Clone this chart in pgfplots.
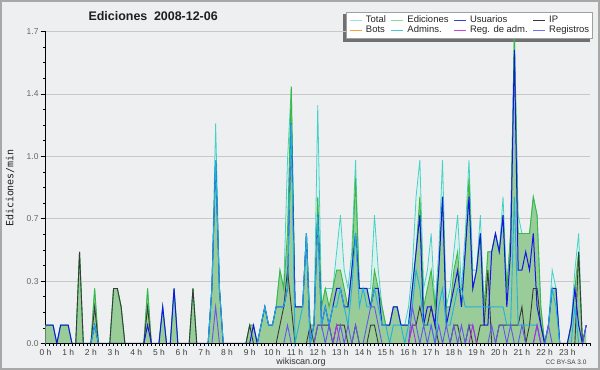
\documentclass[border=0pt]{standalone}
\usepackage{fontspec}
\setmainfont{Liberation Sans}
\newfontfamily\monofont{DejaVu Sans Mono}
\usepackage{pgfplots}
\pgfplotsset{compat=1.18}
\usepackage{pgfplotstable}

\definecolor{bgcol}{HTML}{EEEFF0}
\definecolor{bordercol}{HTML}{A8A8A8}
\definecolor{gridcol}{HTML}{C8C8C8}
\definecolor{totline}{HTML}{44D2C6}
\definecolor{totfill}{HTML}{DCF1EE}
\definecolor{edfill}{HTML}{99CC99}
\definecolor{edline}{HTML}{3CB83C}
\definecolor{ucol}{HTML}{1515E6}
\definecolor{acol}{HTML}{1EB2E0}
\definecolor{ipcol}{HTML}{3A3A3A}
\definecolor{rcol}{HTML}{6655EE}
\definecolor{racol}{HTML}{B22EE0}
\definecolor{lgTot}{HTML}{9FE3DA}
\definecolor{lgEd}{HTML}{8FD88F}
\definecolor{lgU}{HTML}{3A3AD8}
\definecolor{lgIP}{HTML}{383838}
\definecolor{lgBot}{HTML}{FFA030}
\definecolor{lgA}{HTML}{40C8E0}
\definecolor{lgRA}{HTML}{D040E0}
\definecolor{lgR}{HTML}{7070F0}
\definecolor{shadowcol}{HTML}{707070}
\definecolor{legbord}{HTML}{A0A0A0}

\pgfplotstableread{
i T E U A IP R RA
0 0.1 0.1 0.1 0 0 0 0
1 0.1 0.1 0.1 0 0 0 0
2 0.1 0.1 0.1 0 0 0 0
3 0 0 0 0 0 0 0
4 0.1 0.1 0.1 0 0 0 0
5 0.1 0.1 0.1 0 0 0 0
6 0.1 0.1 0.1 0 0 0 0
7 0 0 0 0 0 0 0
8 0 0 0 0 0 0 0
9 0.5 0.5 0 0 0.5 0 0
10 0 0 0 0 0 0 0
11 0 0 0 0 0 0 0
12 0 0 0 0 0 0 0
13 0.3 0.3 0.1 0.1 0.2 0 0
14 0 0 0 0 0 0 0
15 0 0 0 0 0 0 0
16 0 0 0 0 0 0 0
17 0 0 0 0 0 0 0
18 0.3 0.3 0 0 0.3 0 0
19 0.3 0.3 0 0 0.3 0 0
20 0.2 0.2 0 0 0.2 0 0
21 0 0 0 0 0 0 0
22 0 0 0 0 0 0 0
23 0 0 0 0 0 0 0
24 0 0 0 0 0 0 0
25 0 0 0 0 0 0 0
26 0 0 0 0 0 0 0
27 0.3 0.3 0.1 0 0.2 0 0
28 0 0 0 0 0 0 0
29 0 0 0 0 0 0 0
30 0 0 0 0 0 0 0
31 0.2 0.2 0.2 0 0 0 0
32 0 0 0 0 0 0 0
33 0 0 0 0 0 0 0
34 0.3 0.3 0.3 0 0 0 0
35 0 0 0 0 0 0 0
36 0 0 0 0 0 0 0
37 0 0 0 0 0 0 0
38 0 0 0 0 0 0 0
39 0.3 0.3 0 0 0.3 0 0
40 0 0 0 0 0 0 0
41 0 0 0 0 0 0 0
42 0 0 0 0 0 0 0
43 0 0 0 0 0 0 0
44 0.3 0.3 0.3 0.3 0 0 0
45 1.2 1.0 1.0 1.0 0 0.2 0
46 0.3 0.3 0.3 0.3 0 0 0
47 0 0 0 0 0 0 0
48 0 0 0 0 0 0 0
49 0 0 0 0 0 0 0
50 0 0 0 0 0 0 0
51 0 0 0 0 0 0 0
52 0 0 0 0 0 0 0
53 0 0 0 0 0 0 0
54 0.1 0.1 0 0 0.1 0 0
55 0.1 0.1 0.1 0 0 0 0
56 0 0 0 0 0 0 0
57 0.1 0.1 0.1 0.1 0 0 0
58 0.2 0.2 0.2 0.2 0 0 0
59 0.1 0.1 0.1 0.1 0 0 0
60 0.1 0.1 0.1 0.1 0 0 0
61 0.2 0.2 0.2 0.2 0 0 0
62 0.4 0.4 0.2 0.2 0.1 0 0
63 0.3 0.3 0.2 0.2 0.2 0 0
64 1.0 0.6 0.3 0.3 0.4 0.1 0
65 1.4 1.4 1.2 1.2 0.2 0 0
66 0.2 0.2 0.2 0 0 0 0
67 0.2 0.2 0.2 0.1 0 0 0
68 0.2 0.2 0.2 0.2 0 0 0
69 0.6 0.6 0.6 0.6 0 0 0
70 0.1 0.1 0 0 0.1 0 0
71 0.1 0.1 0.1 0.1 0 0 0
72 1.3 0.8 0.7 0.7 0.1 0.1 0
73 0.2 0.2 0.1 0.1 0.1 0.1 0
74 0.3 0.3 0.2 0.2 0.1 0 0
75 0.3 0.2 0.1 0.1 0.1 0.1 0
76 0.3 0.3 0.2 0.2 0 0 0
77 0.5 0.4 0.3 0.2 0.1 0 0.1
78 0.7 0.4 0.3 0.3 0.1 0.1 0
79 0.4 0.3 0.2 0.2 0.1 0 0
80 0.3 0.2 0.2 0.1 0 0.1 0
81 0.5 0.4 0.4 0.3 0 0 0
82 1.0 0.9 0.6 0.6 0.1 0.1 0
83 0.3 0.3 0.3 0.2 0 0 0
84 0.3 0.3 0.3 0.3 0 0 0
85 0.3 0.3 0.3 0.2 0 0.1 0
86 0.3 0.2 0.2 0.2 0.1 0.2 0
87 0.7 0.4 0.3 0.3 0.1 0.2 0
88 0.4 0.3 0.3 0.2 0 0.1 0
89 0.2 0.2 0.1 0.1 0 0 0
90 0.1 0.1 0.1 0.1 0 0 0
91 0.1 0.1 0.1 0 0 0 0
92 0.2 0.2 0.2 0.1 0 0 0
93 0.2 0.2 0.2 0.1 0 0 0
94 0.1 0.1 0.1 0.1 0 0 0
95 0.1 0.1 0.1 0 0 0 0
96 0.2 0.1 0.1 0.1 0 0 0
97 0.4 0.3 0.3 0.2 0.1 0.2 0.1
98 0.8 0.5 0.5 0.4 0.1 0.1 0
99 1.0 0.8 0.7 0.3 0.2 0 0
100 0.3 0.2 0.1 0.1 0.1 0.1 0
101 0.4 0.3 0.2 0.1 0.1 0 0
102 0.6 0.4 0.2 0.1 0.2 0.1 0
103 0.2 0.2 0.1 0 0.1 0 0
104 0.5 0.4 0.4 0.2 0 0.1 0
105 1.0 0.8 0.8 0.3 0 0 0
106 0.2 0.2 0.1 0.1 0 0.1 0
107 0.3 0.2 0.2 0.1 0 0 0
108 0.5 0.4 0.3 0.2 0.1 0.1 0
109 0.7 0.5 0.4 0.3 0.1 0 0
110 0.3 0.2 0.2 0.3 0 0.1 0
111 0.6 0.5 0.5 0.2 0 0 0
112 1.0 0.9 0.8 0.2 0.1 0.1 0
113 0.4 0.3 0.3 0.2 0 0.1 0.1
114 0.4 0.4 0.4 0.2 0 0 0
115 0.7 0.6 0.6 0.2 0.1 0 0
116 0.2 0.2 0.1 0.2 0.1 0 0
117 0.5 0.5 0.1 0.2 0.4 0 0
118 0.5 0.5 0.5 0.2 0 0.1 0
119 0.6 0.6 0.6 0.2 0 0 0
120 0.5 0.5 0.5 0.2 0.1 0.1 0
121 0.8 0.7 0.7 0.2 0.1 0.1 0
122 0.3 0.3 0.2 0.1 0.1 0 0
123 0.6 0.6 0.5 0.1 0.1 0.1 0
124 1.7 1.7 1.6 0.8 0.1 0 0
125 0.7 0.6 0.4 0.1 0.1 0 0
126 0.6 0.6 0.4 0.1 0.2 0.1 0
127 0.6 0.6 0.5 0.1 0 0 0
128 0.6 0.6 0.4 0.1 0.1 0 0
129 0.8 0.8 0.6 0.1 0.3 0 0
130 0.7 0.7 0.2 0.1 0.3 0.1 0.1
131 0.2 0.2 0.1 0 0.1 0 0
132 0 0 0 0 0 0 0
133 0.1 0.1 0.1 0.1 0 0.1 0
134 0.4 0.3 0.3 0.3 0 0 0
135 0.3 0.3 0.3 0.2 0 0 0
136 0 0 0 0 0 0 0
137 0 0 0 0 0 0 0
138 0 0 0 0 0 0 0
139 0.1 0.1 0.1 0 0 0 0
140 0.4 0.3 0.3 0.2 0 0 0
141 0.6 0.5 0.1 0 0.5 0 0
142 0 0 0 0 0 0 0
143 0.1 0.1 0.1 0 0 0.1 0
}\data

\begin{document}
\begin{tikzpicture}[x=1bp,y=1bp]
\fill[bgcol] (0bp,0bp) rectangle (600bp,370bp);
\draw[bordercol, line width=1.6bp] (0.8bp,0.8bp) rectangle (599.2bp,369.2bp);
% legend shadow
\fill[shadowcol] (343bp,328.2bp) rectangle (590bp,355.5bp);
\begin{axis}[
  at={(45.5bp,26.5bp)}, anchor=south west,
  scale only axis, width=544.5bp, height=311.8bp,
  xmin=0, xmax=144, ymin=0, ymax=1.7,
  clip=false,
  axis x line*=bottom, axis y line*=left,
  axis line style={-, black, line width=1bp},
  tick align=outside,
  major tick length=5bp, minor tick length=2.5bp,
  tick style={black, line width=0.8bp},
  xtick={0,6,...,138},
  xticklabels={0 h,1 h,2 h,3 h,4 h,5 h,6 h,7 h,8 h,9 h,10 h,11 h,12 h,13 h,14 h,15 h,16 h,17 h,18 h,19 h,20 h,21 h,22 h,23 h},
  major x tick style={draw=none},
  minor xtick={0,1,...,144},
  ytick={0,0.34,0.68,1.02,1.36,1.7},
  yticklabels={0.0,0.3,0.7,1.0,1.4,1.7},
  minor y tick num=3,
  ymajorgrids,
  major grid style={gridcol, line width=0.8bp},
  xticklabel style={font=\fontsize{8.5}{9}\selectfont, text=black!75, yshift=3bp},
  yticklabel style={font=\fontsize{8.5}{9}\selectfont, text=black!60, xshift=1.5bp},
  legend columns=4,
  legend cell align=left,
  legend image code/.code={\draw[#1] (0bp,0bp) -- (12bp,0bp);},
  legend style={at={(1.0055,1.063)}, anchor=north east,
    draw=legbord, fill=white, line width=0.6bp,
    font=\fontsize{9.5}{10}\selectfont, text=black!85,
    inner sep=3bp, row sep=0bp,
    nodes={inner sep=0.5bp, text height=7bp, text depth=2bp},
    /tikz/every odd column/.append style={column sep=3bp},
    /tikz/every even column/.append style={column sep=4.5bp}},
  no markers,
]
% areas
\addplot[draw=none, fill=totfill, forget plot] table[x=i,y=T] {\data} \closedcycle;
\addplot[draw=none, fill=edfill, forget plot] table[x=i,y=E] {\data} \closedcycle;
\addplot[totline, line width=0.8bp, forget plot] table[x=i,y=T] {\data};
\addplot[edline, line width=0.9bp, forget plot] table[x=i,y=E] {\data};
% lines
\addplot[ipcol, line width=0.9bp, forget plot] table[x=i,y=IP] {\data};
\addplot[ucol, line width=1bp, forget plot] table[x=i,y=U] {\data};
\addplot[acol, line width=0.9bp, forget plot] table[x=i,y=A] {\data};
\addplot[rcol, line width=0.9bp, forget plot] table[x=i,y=R] {\data};
\addplot[racol, line width=0.9bp, forget plot] table[x=i,y=RA] {\data};
% axis line redrawn above data
\draw[black, line width=1.2bp] (axis cs:0,0) -- (axis cs:144,0);
% legend
\addlegendimage{lgTot, line width=1bp}\addlegendentry{Total}
\addlegendimage{lgEd, line width=1bp}\addlegendentry{Ediciones}
\addlegendimage{lgU, line width=1bp}\addlegendentry{Usuarios}
\addlegendimage{lgIP, line width=1bp}\addlegendentry{IP}
\addlegendimage{lgBot, line width=1bp}\addlegendentry{Bots}
\addlegendimage{lgA, line width=1bp}\addlegendentry{Admins.}
\addlegendimage{lgRA, line width=1bp}\addlegendentry{Reg. de adm.}
\addlegendimage{lgR, line width=1bp}\addlegendentry{Registros}
\end{axis}
\node[anchor=base west, font=\bfseries\fontsize{12.5}{14}\selectfont, text=black!88] at (85bp,349.5bp) {Ediciones};
\node[anchor=base west, font=\bfseries\fontsize{12.5}{14}\selectfont, text=black!88] at (150.5bp,349.5bp) {2008-12-06};
\node[rotate=90, font=\monofont\fontsize{10}{11}\selectfont, text=black!88] at (10bp,182bp) {Ediciones/min};
\node[anchor=base, font=\fontsize{9}{10}\selectfont, text=black!80] at (301bp,6bp) {wikiscan.org};
\node[anchor=east, font=\fontsize{6.5}{7}\selectfont, text=black!75] at (590bp,7.5bp) {CC BY-SA 3.0};
\pgfresetboundingbox
\path[use as bounding box] (0bp,0bp) rectangle (600bp,370bp);
\end{tikzpicture}
\end{document}
